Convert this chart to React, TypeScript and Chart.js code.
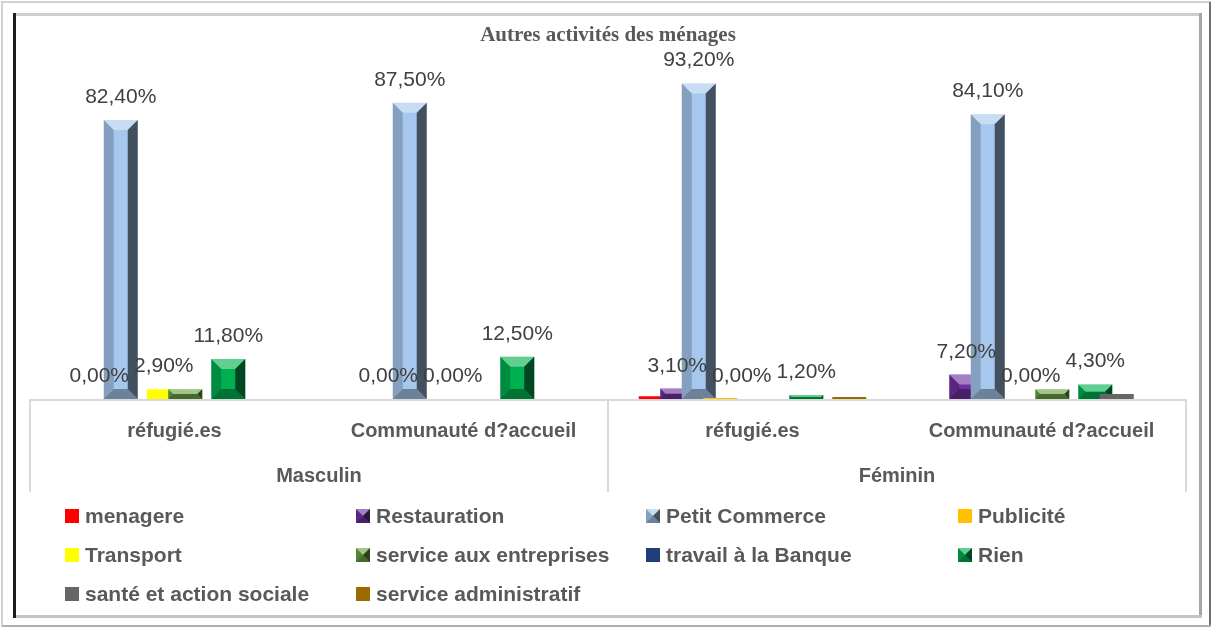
import React, { useEffect, useRef } from 'react';
import { Chart, registerables } from 'chart.js';

Chart.register(...registerables);

// ---------------- DATA ----------------
const TITLE = 'Autres activités des ménages';
const CATEGORIES = ['réfugié.es', 'Communauté d?accueil', 'réfugié.es', 'Communauté d?accueil'];
const GROUPS = ['Masculin', 'Féminin'];

const SERIES_NAMES = [
  'menagere',
  'Restauration',
  'Petit Commerce',
  'Publicité',
  'Transport',
  'service aux entreprises',
  'travail à la Banque',
  'Rien',
  'santé et action sociale',
  'service administratif',
];

const MENAGERE = [0, 0, 0.8, 0];
const RESTAURATION = [0, 0, 3.1, 7.2];
const PETIT_COMMERCE = [82.4, 87.5, 93.2, 84.1];
const PUBLICITE = [0, 0, 0.3, 0];
const TRANSPORT = [2.9, 0, 0, 0];
const SERVICE_ENTREPRISES = [2.9, 0, 0, 2.9];
const BANQUE = [0, 0, 0, 0];
const RIEN = [11.8, 12.5, 1.2, 4.3];
const SANTE = [0, 0, 0, 1.5];
const ADMINISTRATIF = [0, 0, 0.6, 0];

const SERIES_VALUES = [
  MENAGERE,
  RESTAURATION,
  PETIT_COMMERCE,
  PUBLICITE,
  TRANSPORT,
  SERVICE_ENTREPRISES,
  BANQUE,
  RIEN,
  SANTE,
  ADMINISTRATIF,
];

// series that carry data labels in the original
const LABELED_SERIES = ['Restauration', 'Petit Commerce', 'Transport', 'Rien'];

const Y_MIN = 0;
const Y_MAX = 100;

// ---------------- STYLE ----------------
const COLORS = [
  '#ff0000',
  '#7030a0',
  '#a7c8ee',
  '#ffc000',
  '#ffff00',
  '#6aa343',
  '#203f78',
  '#00b050',
  '#666666',
  '#9c6b00',
];
const BEVELED = [false, true, true, false, false, true, false, true, false, false];

const TEXT_GREY = '#595959';
const LABEL_GREY = '#404040';
const SANS = '"Liberation Sans", Arial, sans-serif';
const SERIF = '"Liberation Serif", "Times New Roman", serif';

const fmt = (v: number) => v.toFixed(2).replace('.', ',') + '%';

function poly(ctx: CanvasRenderingContext2D, pts: number[][], color: string) {
  ctx.beginPath();
  ctx.moveTo(pts[0][0], pts[0][1]);
  for (let i = 1; i < pts.length; i++) ctx.lineTo(pts[i][0], pts[i][1]);
  ctx.closePath();
  ctx.fillStyle = color;
  ctx.fill();
}

function drawBevel(ctx: CanvasRenderingContext2D, l: number, t: number, r: number, b: number, s: number) {
  if (b - t < 1) return;
  poly(ctx, [[l, t], [r, t], [r - s, t + s], [l + s, t + s]], 'rgba(255,255,255,0.38)');
  poly(ctx, [[l, b], [r, b], [r - s, b - s], [l + s, b - s]], 'rgba(0,0,0,0.35)');
  poly(ctx, [[l, t], [l + s, t + s], [l + s, b - s], [l, b]], 'rgba(0,0,0,0.2)');
  poly(ctx, [[r, t], [r - s, t + s], [r - s, b - s], [r, b]], 'rgba(0,0,0,0.6)');
}

// frame, axis box, bars in series order, labels, legend
const customPlugin = {
  id: 'customDraw',
  beforeDraw(chart: any) {
    const ctx = chart.ctx as CanvasRenderingContext2D;
    ctx.save();
    ctx.fillStyle = '#ffffff';
    ctx.fillRect(0, 0, chart.width, chart.height);
    // outer frame
    ctx.strokeStyle = '#d0d0d0';
    ctx.lineWidth = 2;
    ctx.strokeRect(2, 2, 1208, 624);
    ctx.fillStyle = '#707070';
    ctx.fillRect(1209, 2, 2, 625);
    ctx.fillStyle = '#b0b0b0';
    ctx.fillRect(2, 625, 1209, 2);
    // inner frame
    ctx.fillStyle = '#cfcfcf';
    ctx.fillRect(13, 13, 1189, 3);
    ctx.fillStyle = '#a6a6a6';
    ctx.fillRect(1199, 13, 3, 605);
    ctx.fillStyle = '#c4c4c4';
    ctx.fillRect(13, 615, 1189, 3);
    ctx.fillStyle = '#1e1e1e';
    ctx.fillRect(13, 13, 3, 605);
    ctx.restore();
  },
  beforeDatasetDraw() {
    return false;
  },
  afterDatasetsDraw(chart: any) {
    const ctx = chart.ctx as CanvasRenderingContext2D;
    const area = chart.chartArea;
    const xs = chart.scales.x;
    // axis box (multi-level category axis)
    ctx.save();
    ctx.fillStyle = '#d9d9d9';
    const n = CATEGORIES.length;
    const half = (xs.getPixelForValue(1) - xs.getPixelForValue(0)) / 2;
    const left = xs.getPixelForValue(0) - half;
    const right = xs.getPixelForValue(n - 1) + half;
    const mid = (xs.getPixelForValue(1) + xs.getPixelForValue(2)) / 2;
    const boxBottom = chart.scales.x2.bottom;
    ctx.fillRect(left, area.bottom, right - left, 2);
    [left, mid, right].forEach((px) => ctx.fillRect(px - 1, area.bottom, 2, boxBottom - area.bottom));
    ctx.restore();

    // bars, later series on top
    ctx.save();
    for (let i = 0; i < chart.data.datasets.length; i++) {
      const meta = chart.getDatasetMeta(i);
      meta.data.forEach((el: any) => {
        el.draw(ctx, area);
        if (BEVELED[i]) {
          const l = el.x - el.width / 2;
          const r = el.x + el.width / 2;
          const t = Math.min(el.y, el.base);
          const b = Math.max(el.y, el.base);
          const s = Math.min(10, el.width * 0.3, (b - t) / 2);
          drawBevel(ctx, l, t, r, b, s);
        }
      });
    }
    ctx.restore();

    // data labels
    ctx.save();
    ctx.font = `21px ${SANS}`;
    ctx.fillStyle = LABEL_GREY;
    ctx.textAlign = 'center';
    ctx.textBaseline = 'alphabetic';
    chart.data.datasets.forEach((ds: any, i: number) => {
      if (!LABELED_SERIES.includes(ds.label)) return;
      const meta = chart.getDatasetMeta(i);
      meta.data.forEach((el: any, j: number) => {
        ctx.fillText(fmt(ds.data[j]), el.x, el.y - 17);
      });
    });
    ctx.restore();
  },
  afterDraw(chart: any) {
    // legend grid (4 columns)
    const ctx = chart.ctx as CanvasRenderingContext2D;
    const colX = [65, 356, 646, 958];
    const rowY = [516, 555, 594];
    const box = 14;
    ctx.save();
    ctx.font = `bold 21px ${SANS}`;
    ctx.textBaseline = 'middle';
    ctx.textAlign = 'left';
    chart.data.datasets.forEach((ds: any, i: number) => {
      const x = colX[i % 4];
      const y = rowY[Math.floor(i / 4)];
      ctx.fillStyle = COLORS[i];
      ctx.fillRect(x, y - box / 2, box, box);
      if (BEVELED[i]) drawBevel(ctx, x, y - box / 2, x + box, y + box / 2, box / 2);
      ctx.fillStyle = TEXT_GREY;
      ctx.fillText(ds.label, x + box + 6, y + 1);
    });
    ctx.restore();
  },
};

export default function App() {
  const ref = useRef<HTMLCanvasElement | null>(null);

  useEffect(() => {
    if (!ref.current) return;
    const chart = new Chart(ref.current, {
      type: 'bar',
      data: {
        labels: CATEGORIES,
        datasets: SERIES_NAMES.map((name, i) => ({
          label: name,
          data: SERIES_VALUES[i],
          backgroundColor: COLORS[i],
          borderWidth: 0,
          categoryPercentage: 0.744,
          barPercentage: 1.58,
        })),
      },
      options: {
        responsive: false,
        animation: false,
        devicePixelRatio: 1,
        layout: { padding: { top: 14, left: 30, right: 26, bottom: 136 } },
        plugins: {
          legend: { display: false },
          tooltip: { enabled: false },
          title: {
            display: true,
            text: TITLE,
            color: TEXT_GREY,
            font: { family: SERIF, size: 21, weight: 'bold' },
            padding: { top: 9.4, bottom: 11.8 },
          },
        },
        scales: {
          x: {
            type: 'category',
            position: 'bottom',
            grid: { display: false, drawTicks: false },
            border: { display: false },
            ticks: {
              autoSkip: false,
              maxRotation: 0,
              padding: 20,
              color: TEXT_GREY,
              font: { family: SANS, size: 20, weight: 'bold' },
            },
            afterFit: (s: any) => {
              s.height = 60;
            },
          },
          x2: {
            type: 'category',
            position: 'bottom',
            labels: GROUPS,
            offset: true,
            grid: { display: false, drawTicks: false },
            border: { display: false },
            ticks: {
              autoSkip: false,
              maxRotation: 0,
              padding: 5,
              color: TEXT_GREY,
              font: { family: SANS, size: 20, weight: 'bold' },
            },
            afterFit: (s: any) => {
              s.height = 33;
            },
          },
          y: {
            display: false,
            min: Y_MIN,
            max: Y_MAX,
          },
        },
      },
      plugins: [customPlugin],
    } as any);
    return () => chart.destroy();
  }, []);

  return (
    <div style={{ position: 'absolute', left: 0, top: 0, width: 1212, height: 628 }}>
      <canvas ref={ref} width={1212} height={628} style={{ display: 'block' }} />
    </div>
  );
}
